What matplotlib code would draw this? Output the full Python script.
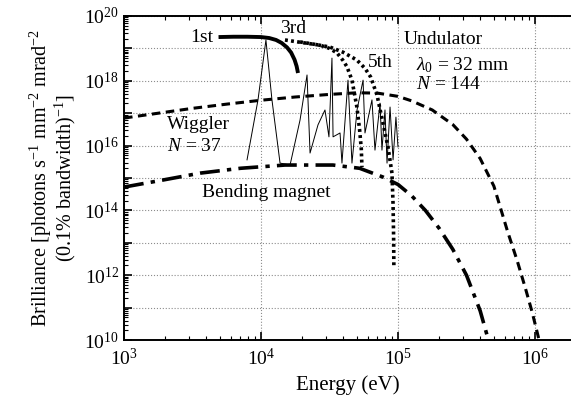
import numpy as np
import matplotlib.pyplot as plt
from matplotlib.ticker import LogLocator, NullFormatter, FixedLocator

plt.rcParams['font.family'] = 'Liberation Serif'
plt.rcParams['mathtext.fontset'] = 'custom'
plt.rcParams['mathtext.rm'] = 'Liberation Serif'
plt.rcParams['mathtext.it'] = 'Liberation Serif:italic'

# values, as log10(energy / eV) and log10(brilliance)
first_logE = [3.69, 3.80, 3.90, 4.00, 4.06, 4.11, 4.15, 4.19, 4.22, 4.245, 4.26, 4.27]
first_logB = [19.35, 19.36, 19.36, 19.35, 19.32, 19.26, 19.17, 19.03, 18.87, 18.65, 18.45, 18.24]

third_logE = [4.175, 4.30, 4.43, 4.50, 4.555, 4.60, 4.628, 4.664, 4.70, 4.72, 4.732, 4.737]
third_logB = [19.26, 19.18, 19.10, 19.00, 18.86, 18.62, 18.43, 18.02, 17.19, 16.48, 15.90, 15.34]

fifth_logE = [4.285, 4.40, 4.504, 4.60, 4.70, 4.76, 4.80, 4.847, 4.89, 4.927, 4.956, 4.964, 4.968, 4.97]
fifth_logB = [19.20, 19.12, 19.04, 18.88, 18.64, 18.38, 18.12, 17.56, 16.70, 15.96, 15.15, 14.20, 13.20, 12.22]

wig37_logE = [3.898, 3.978, 4.036, 4.080, 4.139, 4.212, 4.285, 4.336, 4.358, 4.416,
              4.467, 4.496, 4.518, 4.526, 4.577, 4.591, 4.635, 4.664, 4.701, 4.745,
              4.759, 4.810, 4.832, 4.869, 4.883, 4.905, 4.920, 4.942, 4.964, 4.985, 5.0]
wig37_logB = [15.56, 17.41, 19.26, 17.41, 15.46, 15.40, 16.79, 18.18, 15.77, 16.64,
              17.10, 16.27, 18.70, 16.27, 16.39, 15.46, 18.02, 15.46, 17.10, 18.02,
              16.39, 17.41, 15.86, 17.31, 15.86, 17.10, 15.46, 17.19, 15.56, 16.88, 15.96]

wiggler_logE = [3.0, 3.25, 3.5, 3.75, 4.0, 4.25, 4.5, 4.7, 4.85, 5.0, 5.1, 5.25, 5.4,
                5.5, 5.6, 5.7, 5.8, 5.87, 5.93, 5.98, 6.03]
wiggler_logB = [16.85, 17.0, 17.15, 17.28, 17.4, 17.5, 17.58, 17.63, 17.62, 17.52, 17.38,
                17.1, 16.65, 16.2, 15.6, 14.75, 13.35, 12.45, 11.6, 10.85, 10.0]

bend_logE = [3.0, 3.3, 3.555, 3.85, 4.175, 4.525, 4.72, 4.89, 5.0, 5.1, 5.2, 5.3, 5.4,
             5.5, 5.6, 5.66]
bend_logB = [14.72, 14.95, 15.15, 15.3, 15.4, 15.4, 15.3, 15.03, 14.8, 14.45, 14.0,
             13.45, 12.8, 12.0, 10.9, 10.0]

def un(a):
    return 10 ** np.array(a)

fig = plt.figure(figsize=(5.71, 4.07), dpi=100)
ax = fig.add_axes([0.2172, 0.1646, 0.7828, 0.7961])

ax.plot(un(wig37_logE), un(wig37_logB), color='k', lw=0.7)
ax.plot(un(bend_logE), un(bend_logB), color='k', lw=2.6, ls=(0, (5.5, 2, 1.2, 2)))
ax.plot(un(wiggler_logE), un(wiggler_logB), color='k', lw=2.2, ls=(0, (2.8, 1.8)))
ax.plot(un(third_logE), un(third_logB), color='k', lw=2.6, ls=(0, (0.8, 0.9)))
ax.plot(un(fifth_logE), un(fifth_logB), color='k', lw=2.6, ls=(0, (0.8, 0.9)))
ax.plot(un(first_logE), un(first_logB), color='k', lw=2.8, solid_capstyle='butt')

ax.set_xscale('log')
ax.set_yscale('log')
ax.set_xlim(1e3, 10 ** 6.263)
ax.set_ylim(1e10, 1e20)

ax.xaxis.set_major_locator(FixedLocator([1e3, 1e4, 1e5, 1e6]))
ax.xaxis.set_minor_locator(LogLocator(base=10, subs=np.arange(2, 10), numticks=20))
ax.xaxis.set_minor_formatter(NullFormatter())
ax.yaxis.set_major_locator(FixedLocator([10.0 ** k for k in range(10, 21)]))
ax.yaxis.set_minor_locator(LogLocator(base=10, subs=np.arange(2, 10), numticks=30))
ax.yaxis.set_minor_formatter(NullFormatter())
ax.set_yticklabels(['$10^{%d}$' % k if k % 2 == 0 else '' for k in range(10, 21)])
ax.set_xticklabels(['$10^{%d}$' % k for k in range(3, 7)])

ax.tick_params(which='both', direction='in', top=True, right=False, labelsize=14)
ax.tick_params(which='major', length=6, width=1.2)
ax.tick_params(which='minor', length=3, width=0.8)
ax.tick_params(axis='x', pad=6)
for s in ax.spines.values():
    s.set_linewidth(1.4)
ax.spines['right'].set_visible(False)

ax.grid(True, which='major', ls=':', color='0.55', lw=0.8)

ax.set_xlabel('Energy (eV)', fontsize=15, labelpad=4)
ax.set_ylabel('Brilliance [photons s$^{-1}$ mm$^{-2}$ mrad$^{-2}$\n(0.1% bandwidth)$^{-1}$]',
              fontsize=14.5, linespacing=0.95, labelpad=4)

ts = 14
ax.text(10 ** 3.65, 10 ** 19.35, '1st', fontsize=ts, ha='right', va='center')
ax.text(10 ** 4.234, 10 ** 19.6, '3rd', fontsize=ts, ha='center', va='center')
ax.text(10 ** 4.87, 10 ** 18.55, '5th', fontsize=ts, ha='center', va='center')
ax.text(10 ** 5.044, 10 ** 19.29, 'Undulator', fontsize=ts, ha='left', va='center')
ax.text(10 ** 5.131, 10 ** 18.49, r'$\lambda_0$ = 32 mm', fontsize=ts, ha='left', va='center')
ax.text(10 ** 5.131, 10 ** 17.88, r'$N$ = 144', fontsize=ts, ha='left', va='center')
ax.text(10 ** 3.314, 10 ** 16.64, 'Wiggler', fontsize=ts, ha='left', va='center')
ax.text(10 ** 3.314, 10 ** 15.96, r'$N$ = 37', fontsize=ts, ha='left', va='center')
ax.text(10 ** 3.569, 10 ** 14.54, 'Bending magnet', fontsize=ts, ha='left', va='center')

fig.savefig('out.png', dpi=100)
